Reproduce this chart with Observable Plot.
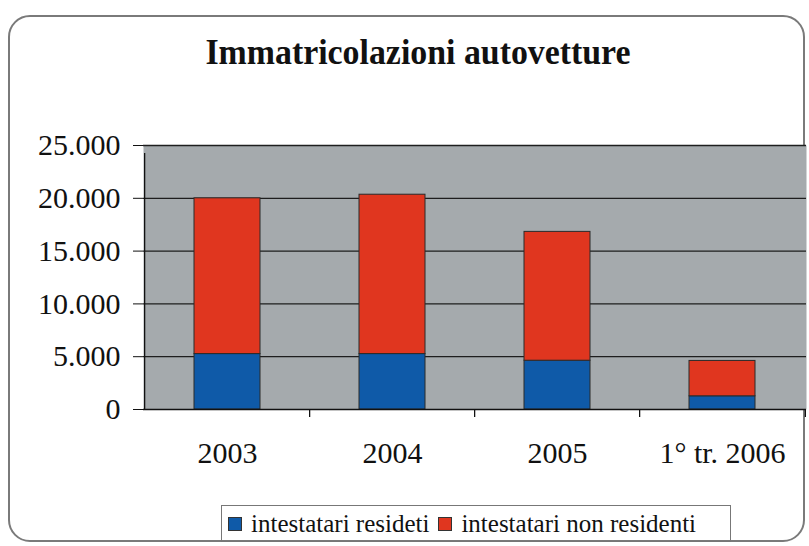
<!DOCTYPE html>
<html>
<head>
<meta charset="utf-8">
<script src="https://cdn.jsdelivr.net/npm/d3@7"></script>
<script src="https://cdn.jsdelivr.net/npm/@observablehq/plot@0.6"></script>
<style>
  html, body { margin: 0; padding: 0; background: #fff; }
  #wrap { position: relative; width: 809px; height: 546px; overflow: hidden; background: #fff; }
  #card { position: absolute; left: 8px; top: 15px; width: 797px; height: 527px; border: 2px solid #7a7a7a; border-radius: 22px; box-sizing: border-box; }
  #title { position: absolute; left: 0; width: 836px; top: 31px; text-align: center; font-family: "Liberation Serif", "Times New Roman", serif; font-weight: bold; font-size: 36px; color: #111; transform: scaleX(0.94); transform-origin: 418px 0; }
  #plot { position: absolute; left: 0; top: 100px; }
  #legend { position: absolute; left: 221px; top: 505px; width: 510px; height: 37px; box-sizing: border-box; border: 1.5px solid #777; display: flex; align-items: center; font-family: "Liberation Serif", "Times New Roman", serif; font-size: 25px; color: #111; padding-left: 6px; white-space: nowrap; }
  .sw { display: inline-block; width: 12px; height: 12px; border: 1px solid #333; margin-right: 9px; }
  .item { display: inline-flex; align-items: center; margin-right: 9px; }
</style>
</head>
<body>
<div id="wrap">
  <div id="card"></div>
  <div id="title">Immatricolazioni autovetture</div>
  <div id="plot"></div>
  <div id="legend"></div>
</div>
<script>
const categories = ["2003", "2004", "2005", "1° tr. 2006"];
const seriesNames = ["intestatari resideti", "intestatari non residenti"];
const residenti = [5250, 5250, 4620, 1250];
const nonResidenti = [14750, 15090, 12200, 3350];
const yTicks = [0, 5000, 10000, 15000, 20000, 25000];
const colors = ["#0f5aa8", "#e0361f"];

const data = [];
categories.forEach((c, i) => {
  data.push({year: c, series: seriesNames[0], value: residenti[i]});
  data.push({year: c, series: seriesNames[1], value: nonResidenti[i]});
});

const W = 809, ML = 143, MR = 3;
const step = (W - ML - MR) / categories.length;
const it = d3.formatLocale({decimal: ",", thousands: ".", grouping: [3], currency: ["€", ""]});
const fmt = it.format(",");
const font = '"Liberation Serif", "Times New Roman", serif';

const chart = Plot.plot({
  width: W,
  height: 380,
  marginLeft: ML,
  marginRight: MR,
  marginTop: 45,
  marginBottom: 71,
  style: {fontFamily: font, fontSize: "30px", color: "#111", background: "transparent", overflow: "visible"},
  x: {type: "band", domain: categories, paddingInner: 0.6, paddingOuter: 0.3, axis: null, label: null},
  y: {domain: [0, 25000], axis: null, label: null},
  color: {domain: seriesNames, range: colors},
  marks: [
    Plot.frame({fill: "#a5aaad", stroke: "none"}),
    Plot.ruleY(yTicks.filter(d => d > 0), {stroke: "#1e1e1e", strokeWidth: 1.3}),
    Plot.barY(data, {x: "year", y: "value", fill: "series", stroke: "#2a2a2a", strokeWidth: 1}),
    Plot.ruleY([0], {stroke: "#111", strokeWidth: 1.3}),
    Plot.ruleX(categories.slice(0, 1), {x: d => d, dx: -step / 2, y1: 0, y2: 25000, insetBottom: -8, stroke: "#111", strokeWidth: 1.3}),
    Plot.ruleX(categories.slice(1), {x: d => d, dx: -step / 2, y1: 0, y2: 0, insetBottom: -8, stroke: "#111", strokeWidth: 1.3}),
    Plot.ruleX(categories.slice(-1), {x: d => d, dx: step / 2, y1: 0, y2: 0, insetBottom: -8, stroke: "#111", strokeWidth: 1.3}),
    Plot.axisY({ticks: yTicks, tickFormat: fmt, tickSize: 10, tickPadding: 13, fontSize: 30, stroke: "#111", label: null}),
    Plot.axisX({tickSize: 0, tickPadding: 32, fontSize: 30, label: null})
  ]
});
document.getElementById("plot").appendChild(chart);

const legend = document.getElementById("legend");
seriesNames.forEach((s, i) => {
  const item = document.createElement("span");
  item.className = "item";
  const sw = document.createElement("span");
  sw.className = "sw";
  sw.style.background = colors[i];
  item.appendChild(sw);
  item.appendChild(document.createTextNode(s));
  legend.appendChild(item);
});
</script>
</body>
</html>
